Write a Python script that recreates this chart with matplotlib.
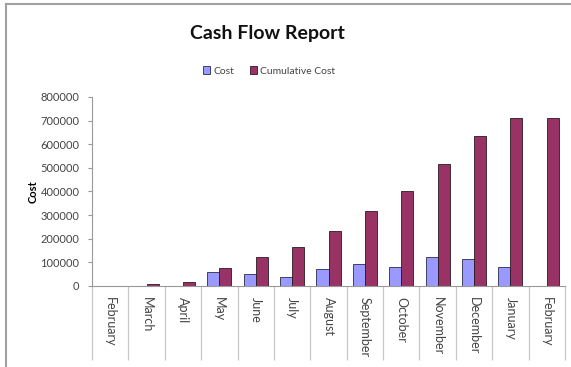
import numpy as np
import matplotlib
matplotlib.use("Agg")
import matplotlib.pyplot as plt
from matplotlib.lines import Line2D
from matplotlib.patches import Patch

plt.rcParams['font.family'] = ['Lato', 'DejaVu Sans']

months = ['February', 'March', 'April', 'May', 'June', 'July', 'August',
          'September', 'October', 'November', 'December', 'January', 'February']
cost = [-1000, -2000, -3000, 61000, 51000, 39000, 71000, 92000, 82000,
        124000, 114000, 82000, -2000]
cumulative = [1000, 8000, 15000, 75000, 121000, 166000, 234000, 319000,
              400000, 516000, 633000, 713000, 713000]

cost_color = '#9999ff'
cum_color = '#993366'
grid_gray = '#c8c8c8'
text_gray = '#444444'

fig = plt.figure(figsize=(5.71, 3.67), dpi=100)
ax = fig.add_axes([92 / 571, 1 - 286 / 367, (565 - 92) / 571, (286 - 97) / 367])

x = np.arange(len(months))
w = 0.33
ax.bar(x - w / 2, cost, w, color=cost_color, edgecolor='#2a2a4a', linewidth=0.6)
ax.bar(x + w / 2, cumulative, w, color=cum_color, edgecolor='#2a1a22', linewidth=0.6)

ax.set_xlim(-0.5, len(months) - 0.5)
ax.set_ylim(0, 800000)
ax.set_yticks(np.arange(0, 800001, 100000))
ax.set_yticklabels([str(v) for v in range(0, 800001, 100000)], fontsize=8, color=text_gray)
ax.tick_params(axis='y', length=3, color='#999999', width=0.8, pad=6)

# category labels hang below the axis, separated by long dividers
ax.set_xticks(x)
ax.set_xticklabels(months, rotation=270, fontsize=9, color=text_gray, va='top')
ax.tick_params(axis='x', which='major', length=0, pad=8)
ax.set_xticks(np.arange(-0.5, len(months), 1), minor=True)
ax.tick_params(axis='x', which='minor', length=53, color=grid_gray, width=0.9, direction='out')

for side in ['top', 'right']:
    ax.spines[side].set_visible(False)
ax.spines['left'].set_color('#999999')
ax.spines['bottom'].set_color('#999999')

ax.set_ylabel('Cost', fontsize=8, fontweight='bold', labelpad=1)

fig.text(267 / 571, 1 - 33 / 367, 'Cash Flow Report', fontsize=14, fontweight='bold',
         ha='center', va='center', color='#111111')

handles = [Patch(facecolor=cost_color, edgecolor='#2a2a4a', linewidth=0.6),
           Patch(facecolor=cum_color, edgecolor='#2a1a22', linewidth=0.6)]
fig.legend(handles, ['Cost', 'Cumulative Cost'], loc='center',
           bbox_to_anchor=(269 / 571, 1 - 71 / 367), ncol=2, frameon=False,
           fontsize=7.5, labelcolor=text_gray, handlelength=0.7, handleheight=0.7,
           handletextpad=0.3, columnspacing=1.5)

# outer frame on the left and top
fig.add_artist(Line2D([6 / 571, 6 / 571], [0, 1 - 4 / 367], color='#a0a0a0', linewidth=1.5))
fig.add_artist(Line2D([6 / 571, 1], [1 - 4 / 367, 1 - 4 / 367], color='#a0a0a0', linewidth=1.5))

fig.savefig('out.png', dpi=100)
